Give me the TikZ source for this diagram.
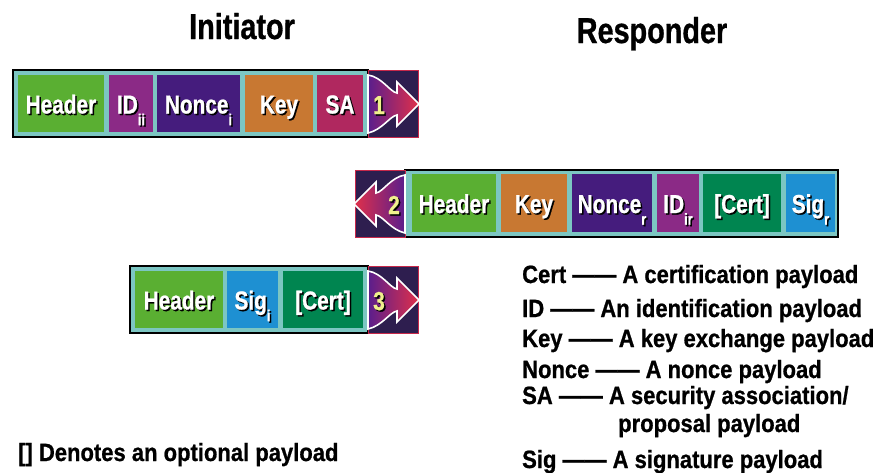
\documentclass[tikz,border=0pt]{standalone}
\usepackage{fontspec}
\newfontfamily\condbold{Liberation Sans Bold}[FakeStretch=0.8, FakeBold=0.8]
\newfontfamily\legendbold{Liberation Sans Bold}[FakeStretch=0.88, FakeBold=0.8]
\definecolor{headercolor}{RGB}{90,175,50}
\definecolor{idcolor}{RGB}{139,42,134}
\definecolor{noncecolor}{RGB}{69,28,125}
\definecolor{keycolor}{RGB}{200,120,50}
\definecolor{sacolor}{RGB}{176,40,95}
\definecolor{certcolor}{RGB}{0,133,80}
\definecolor{sigcolor}{RGB}{30,144,210}
\definecolor{framecolor}{RGB}{124,198,194}
\definecolor{flowbg}{RGB}{46,30,79}
\definecolor{flowedge}{RGB}{200,40,74}
\definecolor{tailcolor}{RGB}{90,30,140}
\definecolor{tipcolor}{RGB}{225,48,74}
\definecolor{numcolor}{RGB}{240,240,140}
\newcommand{\shadowed}[2]{%
  \makebox[0pt][l]{\hspace{1.5pt}\raisebox{-1.5pt}{\color{black}#2}}{\color{#1}#2}}
\newcommand{\lowidx}[1]{\raisebox{-0.45em}{\fontsize{16}{16}\selectfont #1}}
\newcommand{\msgframe}[4]{%
  \filldraw[fill=framecolor, draw=black, line width=1.2pt]
    (#1,#2) rectangle (#1+#3, #2+#4);
}
\newcommand{\payload}[7]{%
  \fill[#5] (#1,#2) rectangle (#1+#3, #2+#4);
  \node[cell text] (#6) at (#1+#3/2, #2+#4/2+10) {\shadowed{white}{#7}};
}
\newcommand{\flow}[7]{%
  \begin{scope}[shift={(#1,#2)}, xscale=#3]
    \filldraw[fill=flowbg, draw=flowedge, line width=0.8pt] (0,0) rectangle (50,67);
    \shade[left color=#4, right color=#5, draw=white, line width=1.6pt]
      (0,5) .. controls (14,7) and (22,22) .. (29,23) -- (29,12) -- (51,34)
      -- (29,56) -- (29,45) .. controls (22,46) and (14,60) .. (0,63) -- cycle;
    \node[num text] (#6) at (11,44) {\shadowed{numcolor}{#7}};
  \end{scope}
}
\tikzset{
  cell text/.style={anchor=base, inner sep=0pt, font=\condbold\fontsize{26}{26}\selectfont},
  num text/.style={anchor=base, inner sep=0pt, font=\condbold\fontsize{26}{26}\selectfont},
  title/.style={anchor=base, inner sep=0pt, font=\condbold\fontsize{36}{36}\selectfont},
  legend/.style={anchor=base west, inner sep=0pt, font=\legendbold\fontsize{25}{25}\selectfont}
}

\begin{document}
\begin{tikzpicture}[x=1pt, y=-1pt]
    \useasboundingbox (0,0) rectangle (875,472);
    % Titles
    \node[title] (initiator) at (242,39) {Initiator};
    \node[title] (responder) at (652,43) {Responder};
    % Message 1
    \msgframe{13}{70}{355}{67}
    \payload{18}{75}{86}{57}{headercolor}{h1}{Header}
    \payload{109}{75}{44}{57}{idcolor}{id1}{ID\lowidx{ii}}
    \payload{157}{75}{83}{57}{noncecolor}{n1}{Nonce\lowidx{i}}
    \payload{245}{75}{68}{57}{keycolor}{k1}{Key}
    \payload{317}{75}{46}{57}{sacolor}{sa1}{SA}
    \flow{368}{70}{1}{tailcolor}{tipcolor}{f1}{1}
    % Message 2
    \msgframe{405}{170}{433}{67}
    \payload{412}{174}{84}{58}{headercolor}{h2}{Header}
    \payload{501}{174}{66}{58}{keycolor}{k2}{Key}
    \payload{572}{174}{80}{58}{noncecolor}{n2}{Nonce\lowidx{r}}
    \payload{657}{174}{42}{58}{idcolor}{id2}{ID\lowidx{ir}}
    \payload{703}{174}{78}{58}{certcolor}{c2}{[Cert]}
    \payload{786}{174}{49}{58}{sigcolor}{s2}{Sig\lowidx{r}}
    \flow{405}{170}{-1}{tipcolor}{tailcolor}{f2}{2}
    % Message 3
    \msgframe{130}{266}{238}{67}
    \payload{135}{271}{88}{57}{headercolor}{h3}{Header}
    \payload{227}{271}{51}{57}{sigcolor}{s3}{Sig\lowidx{i}}
    \payload{283}{271}{80}{57}{certcolor}{c3}{[Cert]}
    \flow{368}{266}{1}{tailcolor}{tipcolor}{f3}{3}
    % Legend
    \foreach \n/\y/\txt in {cert/283/{Cert —— A certification payload},
        id/317/{ID —— An identification payload},
        key/347/{Key —— A key exchange payload},
        nonce/378/{Nonce —— A nonce payload},
        sa/404/{SA —— A security association/},
        sig/468/{Sig —— A signature payload}} {
      \node[legend] (leg-\n) at (522,\y) {\txt};
    }
    \node[legend] (leg-sa2) at (618,432) {proposal payload};
    \node[legend] (optional) at (18,461) {[] Denotes an optional payload};
\end{tikzpicture}
\end{document}
